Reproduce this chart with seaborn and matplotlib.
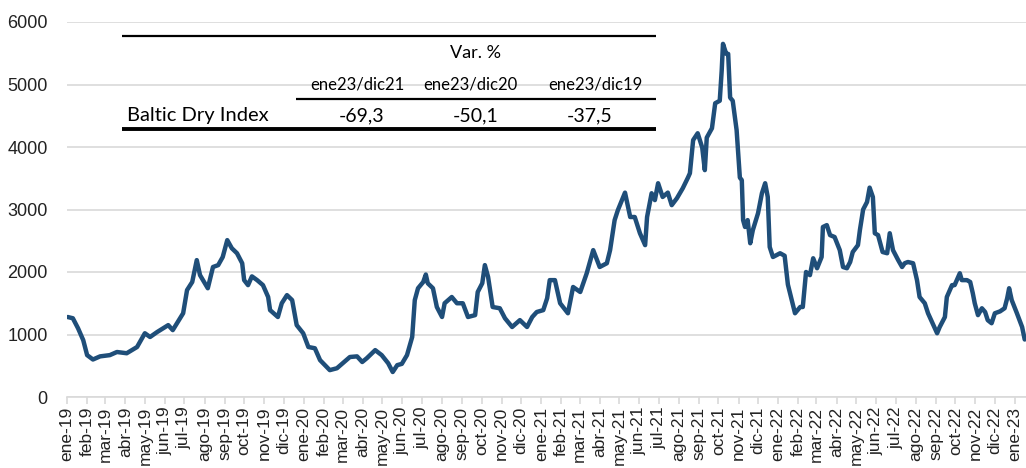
import matplotlib
matplotlib.use("Agg")
import matplotlib.pyplot as plt
import matplotlib.dates as mdates
from matplotlib.lines import Line2D
import seaborn as sns
import pandas as pd

# ---------------- data ----------------
dates = [
    "2019-01-02", "2019-01-10", "2019-01-18", "2019-01-26", "2019-02-01", "2019-02-10",
    "2019-02-21", "2019-03-08", "2019-03-19", "2019-04-03", "2019-04-19", "2019-05-01",
    "2019-05-09", "2019-05-20", "2019-06-06", "2019-06-13", "2019-06-29", "2019-07-05",
    "2019-07-13", "2019-07-20", "2019-07-25", "2019-08-06", "2019-08-14", "2019-08-22",
    "2019-08-29", "2019-09-05", "2019-09-12", "2019-09-20", "2019-09-28", "2019-10-01",
    "2019-10-07", "2019-10-13", "2019-10-21", "2019-10-30", "2019-11-07", "2019-11-10",
    "2019-11-22", "2019-11-28", "2019-12-06", "2019-12-14", "2019-12-21", "2019-12-31",
    "2020-01-08", "2020-01-18", "2020-01-26", "2020-02-10", "2020-02-21", "2020-03-01",
    "2020-03-12", "2020-03-23", "2020-03-31", "2020-04-07", "2020-04-12", "2020-04-20",
    "2020-04-30", "2020-05-10", "2020-05-17", "2020-05-24", "2020-05-31", "2020-06-08",
    "2020-06-16", "2020-06-20", "2020-06-25", "2020-07-03", "2020-07-07", "2020-07-10",
    "2020-07-18", "2020-07-24", "2020-08-01", "2020-08-05", "2020-08-16", "2020-08-24",
    "2020-09-02", "2020-09-10", "2020-09-21", "2020-09-25", "2020-10-02", "2020-10-06",
    "2020-10-11", "2020-10-18", "2020-10-29", "2020-11-06", "2020-11-17", "2020-11-29",
    "2020-12-10", "2020-12-18", "2020-12-25", "2021-01-04", "2021-01-10", "2021-01-14",
    "2021-01-22", "2021-01-30", "2021-02-11", "2021-02-19", "2021-03-02", "2021-03-12",
    "2021-03-22", "2021-04-01", "2021-04-12", "2021-04-17", "2021-04-24", "2021-04-29",
    "2021-05-10", "2021-05-18", "2021-05-25", "2021-06-02", "2021-06-10", "2021-06-13",
    "2021-06-20", "2021-06-25", "2021-06-30", "2021-07-07", "2021-07-15", "2021-07-21",
    "2021-07-29", "2021-08-07", "2021-08-15", "2021-08-18", "2021-08-23", "2021-08-30",
    "2021-09-06", "2021-09-10", "2021-09-13", "2021-09-21", "2021-09-26", "2021-10-03",
    "2021-10-06", "2021-10-08", "2021-10-13", "2021-10-16", "2021-10-19", "2021-10-23",
    "2021-10-29", "2021-11-03", "2021-11-06", "2021-11-08", "2021-11-11", "2021-11-15",
    "2021-11-19", "2021-11-23", "2021-12-01", "2021-12-07", "2021-12-12", "2021-12-16",
    "2021-12-19", "2021-12-24", "2022-01-04", "2022-01-11", "2022-01-16", "2022-01-22",
    "2022-01-27", "2022-02-04", "2022-02-08", "2022-02-13", "2022-02-19", "2022-02-24",
    "2022-03-02", "2022-03-09", "2022-03-11", "2022-03-17", "2022-03-22", "2022-03-29",
    "2022-04-06", "2022-04-11", "2022-04-17", "2022-04-22", "2022-04-26", "2022-05-04",
    "2022-05-07", "2022-05-12", "2022-05-18", "2022-05-22", "2022-05-27", "2022-05-30",
    "2022-06-04", "2022-06-11", "2022-06-18", "2022-06-22", "2022-06-27", "2022-07-05",
    "2022-07-11", "2022-07-15", "2022-07-20", "2022-07-28", "2022-08-03", "2022-08-07",
    "2022-08-15", "2022-08-20", "2022-08-27", "2022-09-03", "2022-09-07", "2022-09-15",
    "2022-09-18", "2022-09-26", "2022-09-30", "2022-10-08", "2022-10-11", "2022-10-19",
    "2022-10-24", "2022-10-28", "2022-10-31", "2022-11-05", "2022-11-11", "2022-11-16",
    "2022-11-20", "2022-11-26", "2022-12-01", "2022-12-09", "2022-12-16", "2022-12-20",
    "2022-12-23", "2022-12-27", "2023-01-04", "2023-01-12", "2023-01-16",
]
bdi = [
    1280, 1260, 1100, 910, 670, 600,
    650, 670, 720, 700, 800, 1020,
    960, 1040, 1150, 1070, 1340, 1710,
    1840, 2190, 1950, 1740, 2080, 2110,
    2240, 2510, 2380, 2300, 2140, 1870,
    1790, 1930, 1870, 1790, 1600, 1390,
    1280, 1500, 1630, 1550, 1150, 1020,
    800, 780, 590, 430, 460, 540,
    640, 650, 560, 620, 670, 750,
    670, 540, 400, 510, 530, 670,
    960, 1550, 1740, 1840, 1960, 1820,
    1740, 1440, 1280, 1500, 1600, 1500,
    1500, 1280, 1310, 1680, 1820, 2110,
    1920, 1440, 1420, 1260, 1120, 1230,
    1120, 1280, 1360, 1390, 1580, 1870,
    1870, 1500, 1340, 1760, 1680, 1980,
    2350, 2080, 2140, 2350, 2830, 2990,
    3270, 2880, 2880, 2620, 2430, 2880,
    3260, 3150, 3420, 3200, 3270, 3070,
    3180, 3340, 3510, 3580, 4110, 4220,
    3990, 3630, 4150, 4300, 4700, 4740,
    5220, 5650, 5490, 5490, 4790, 4740,
    4270, 3510, 3470, 2830, 2720, 2830,
    2460, 2670, 2940, 3260, 3420, 3200,
    2400, 2240, 2300, 2260, 1800, 1550,
    1340, 1440, 1440, 2000, 1950, 2220,
    2060, 2240, 2720, 2750, 2590, 2560,
    2350, 2080, 2060, 2160, 2320, 2430,
    2670, 3000, 3120, 3350, 3200, 2620,
    2590, 2320, 2300, 2620, 2350, 2190,
    2080, 2140, 2160, 2140, 1870, 1600,
    1500, 1340, 1180, 1020, 1120, 1280,
    1600, 1790, 1790, 1980, 1870, 1870,
    1840, 1660, 1500, 1310, 1420, 1360,
    1230, 1180, 1340, 1370, 1420, 1580,
    1740, 1550, 1340, 1120, 920,
]
month_abbr = ["ene", "feb", "mar", "abr", "may", "jun",
              "jul", "ago", "sep", "oct", "nov", "dic"]
y_ticks = [0, 1000, 2000, 3000, 4000, 5000, 6000]

series_name = "Baltic Dry Index"
table_title = "Var. %"
table_cols = ["ene23/dic21", "ene23/dic20", "ene23/dic19"]
table_vals = [-69.3, -50.1, -37.5]

# ---------------- figure ----------------
W, H = 1026, 468
sns.set_theme(style="white")
plt.rcParams["font.family"] = ["Liberation Sans", "DejaVu Sans"]

fig = plt.figure(figsize=(W / 100, H / 100), dpi=100)
ax = fig.add_axes([67 / W, 1 - 397 / H, 1 - 67 / W, (397 - 22) / H])

df = pd.DataFrame({"fecha": pd.to_datetime(dates), "valor": bdi})
sns.lineplot(data=df, x="fecha", y="valor", ax=ax, color="#1F4E79",
             linewidth=3.2, solid_joinstyle="round", solid_capstyle="round")

ax.set_ylim(0, 6000)
ax.set_xlim(pd.Timestamp("2019-01-01"), pd.Timestamp("2023-01-18"))
ax.set_yticks(y_ticks)
ax.set_yticklabels([str(v) for v in y_ticks], fontsize=13, color="#222222")
ax.yaxis.grid(True, color="#d9d9d9", linewidth=1.2)
ax.set_axisbelow(True)

month_starts = pd.date_range("2019-01-01", "2023-01-01", freq="MS")
ax.set_xticks(month_starts)
ax.set_xticklabels([f"{month_abbr[d.month - 1]}-{d.year % 100:02d}" for d in month_starts],
                   rotation=90, fontsize=12.5, color="#222222")
ax.tick_params(axis="x", which="major", bottom=True, length=5, width=1.2,
               color="#d9d9d9", pad=2)
ax.tick_params(axis="y", length=0, pad=14)

for s in ["top", "right", "left"]:
    ax.spines[s].set_visible(False)
ax.spines["bottom"].set_color("#d9d9d9")
ax.spines["bottom"].set_linewidth(1.2)
ax.set_xlabel("")
ax.set_ylabel("")

# ---------------- embedded table ----------------
def fx(px):
    return px / W

def fy(py):
    return 1 - py / H

tfont = ["Lato", "DejaVu Sans"]

def hline(x0, x1, y, lw):
    fig.add_artist(Line2D([fx(x0), fx(x1)], [fy(y), fy(y)], color="black",
                          linewidth=lw, solid_capstyle="butt"))

hline(122, 656, 36, 1.6)
hline(296, 656, 99, 1.6)
hline(122, 656, 129, 2.8)

fig.text(fx(476), fy(53), table_title, ha="center", va="center",
         fontsize=13, family=tfont, color="black")
col_centers = [357, 470, 595]
val_centers = [362, 476, 590]
for cx, lab in zip(col_centers, table_cols):
    fig.text(fx(cx), fy(84), lab, ha="center", va="center",
             fontsize=12, family=tfont, color="black")
fig.text(fx(127), fy(116), series_name, ha="left", va="center",
         fontsize=14.5, family=tfont, color="black")
for cx, v in zip(val_centers, table_vals):
    fig.text(fx(cx), fy(116), f"{v:.1f}".replace(".", ","), ha="center",
             va="center", fontsize=14, family=tfont, color="black")

fig.savefig("out.png", dpi=100, facecolor="white")
